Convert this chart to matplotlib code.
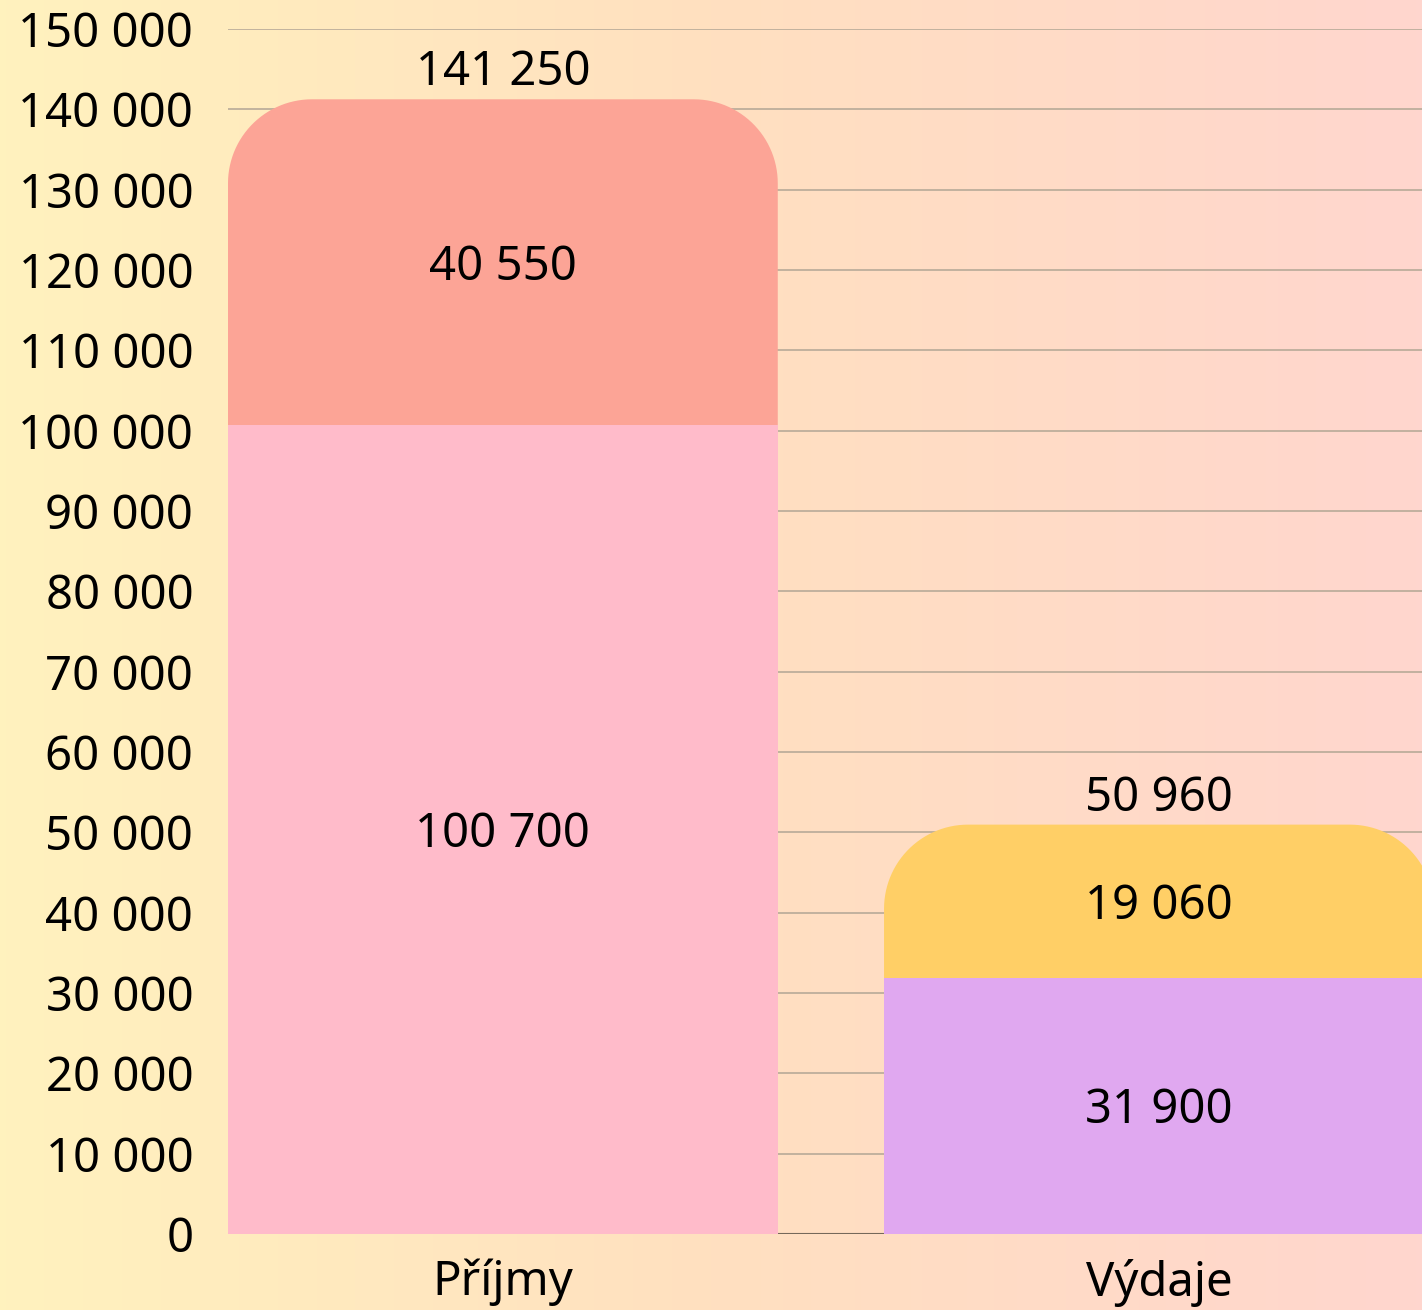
import numpy as np
import matplotlib
matplotlib.use("Agg")
from matplotlib import pyplot as plt
from matplotlib.patches import PathPatch, Rectangle
from matplotlib.path import Path
from matplotlib.colors import LinearSegmentedColormap
from matplotlib.ticker import FuncFormatter, MultipleLocator

# data
categories = ["Příjmy", "Výdaje"]
bottom_values = [100700, 31900]
top_values = [40550, 19060]
bottom_colors = ["#FFBBCA", "#E0A8F0"]
top_colors = ["#FCA496", "#FFCF66"]

plt.rcParams['font.family'] = ['Noto Sans', 'DejaVu Sans']

W, H = 1422, 1310
fig = plt.figure(figsize=(W / 100, H / 100), dpi=100)

# background gradient
bg = fig.add_axes([0, 0, 1, 1], zorder=-10)
cmap = LinearSegmentedColormap.from_list("bg", ["#FFF2BE", "#FFE0C0", "#FFD6CE"])
bg.imshow(np.linspace(0, 1, 256).reshape(1, -1), aspect="auto", cmap=cmap,
          extent=[0, 1, 0, 1])
bg.axis("off")

left, bottom_ax = 228 / W, 76 / H
top_ax = (H - 29) / H
ax = fig.add_axes([left, bottom_ax, 1 - left, top_ax - bottom_ax])
ax.patch.set_alpha(0)

width = 0.838
xlim = (-0.419, 1.401)
ylim = (0, 150000)
ax.set_xlim(*xlim)
ax.set_ylim(*ylim)

# px -> data
ax_w_px = (1 - left) * W
ax_h_px = (top_ax - bottom_ax) * H
px_x = (xlim[1] - xlim[0]) / ax_w_px
px_y = (ylim[1] - ylim[0]) / ax_h_px
r_px = 84
rx, ry = r_px * px_x, r_px * px_y


def rounded_top(x0, x1, y0, y1):
    # rectangle with circular (in pixels) top corners
    a = np.linspace(np.pi, np.pi / 2, 30)
    left_c = np.column_stack([x0 + rx + rx * np.cos(a), y1 - ry + ry * np.sin(a)])
    a = np.linspace(np.pi / 2, 0, 30)
    right_c = np.column_stack([x1 - rx + rx * np.cos(a), y1 - ry + ry * np.sin(a)])
    verts = np.vstack([[[x0, y0]], left_c, right_c, [[x1, y0]], [[x0, y0]]])
    return Path(verts, closed=True)


fmt = lambda v: f"{v:,.0f}".replace(",", " ")
fs = 34
half_digit = 17.5 * px_y

for i, cat in enumerate(categories):
    b = bottom_values[i]
    t = top_values[i]
    total = b + t
    ax.add_patch(PathPatch(rounded_top(i - width / 2, i + width / 2, 0, total),
                           facecolor=top_colors[i], edgecolor="none", zorder=2))
    ax.add_patch(Rectangle((i - width / 2, 0), width, b,
                           facecolor=bottom_colors[i], edgecolor="none", zorder=3))
    ax.text(i, b / 2 - half_digit, fmt(b), ha="center", va="baseline", fontsize=fs, zorder=5)
    ax.text(i, b + t / 2 - half_digit, fmt(t), ha="center", va="baseline", fontsize=fs, zorder=5)
    ax.text(i, total + 14 * px_y, fmt(total), ha="center", va="baseline", fontsize=fs, zorder=5)

ax.yaxis.set_major_locator(MultipleLocator(10000))
ax.yaxis.set_major_formatter(FuncFormatter(lambda v, p: fmt(v)))
ax.set_xticks(range(len(categories)))
ax.set_xticklabels(categories)
ax.grid(axis="y", color="#B8AA98", linewidth=1.2, zorder=0)
ax.set_axisbelow(True)
ax.axhline(0, color="#75685A", linewidth=1.5, zorder=1)
for s in ax.spines.values():
    s.set_visible(False)
ax.tick_params(axis="y", length=0, pad=25, labelsize=fs)
ax.tick_params(axis="x", length=0, pad=18, labelsize=fs)

plt.savefig("out.png", dpi=100)
